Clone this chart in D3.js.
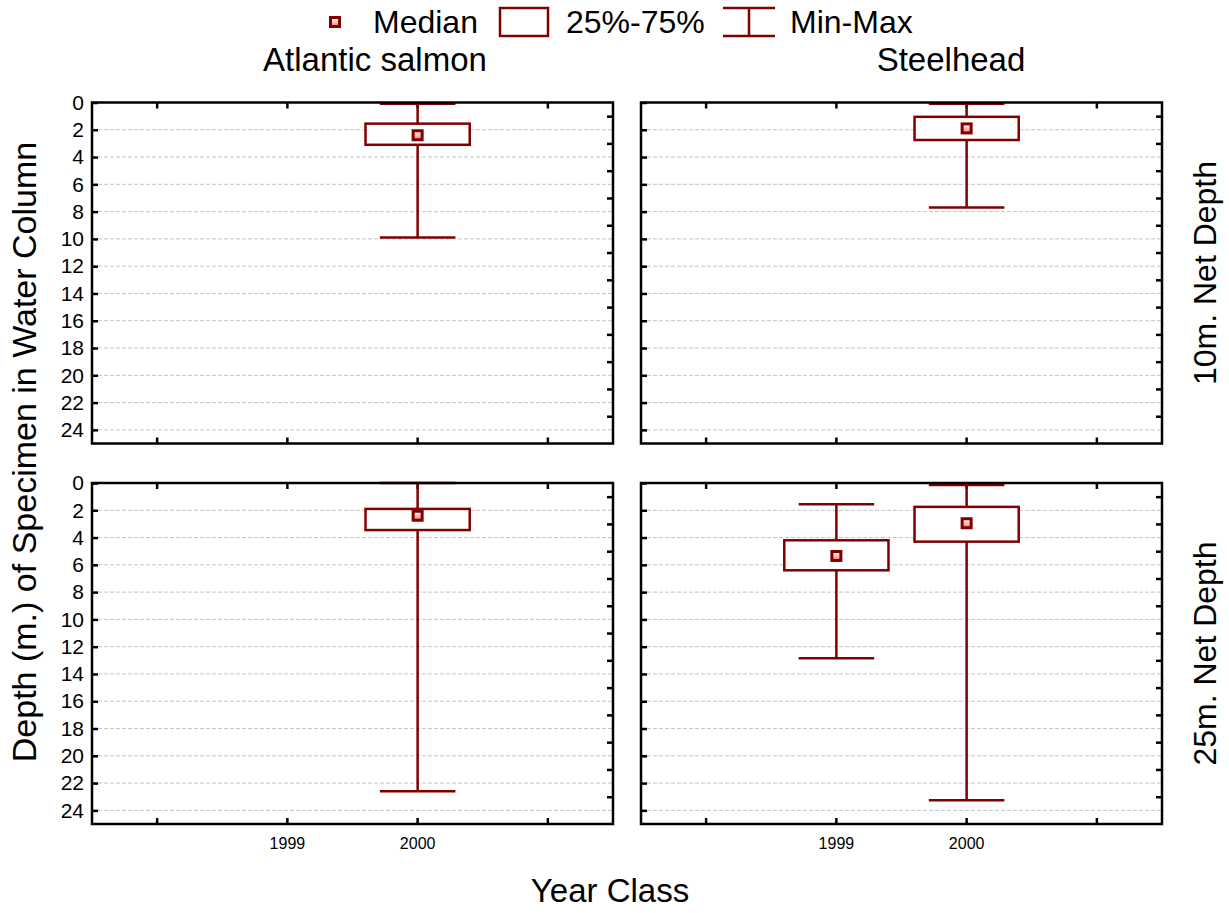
<!DOCTYPE html>
<html>
<head>
<meta charset="utf-8">
<script src="https://cdn.jsdelivr.net/npm/d3@7"></script>
<style>
  body { margin: 0; background: #fff; }
  text { font-family: "Liberation Sans", Arial, sans-serif; fill: #000; }
</style>
</head>
<body>
<script>
//categories for columns, rows and the x axis
var species = ["Atlantic salmon", "Steelhead"];
var nets = ["10m. Net Depth", "25m. Net Depth"];
var xCategories = ["1998", "1999", "2000", "2001"];
var xTickLabels = ["", "1999", "2000", ""];
var yTicks = [0, 2, 4, 6, 8, 10, 12, 14, 16, 18, 20, 22, 24];
var yOddTicks = [1, 3, 5, 7, 9, 11, 13, 15, 17, 19, 21, 23];

//box values, one entry per box
var boxSpecies = ["Atlantic salmon", "Steelhead", "Atlantic salmon", "Steelhead", "Steelhead"];
var boxNet     = ["10m. Net Depth", "10m. Net Depth", "25m. Net Depth", "25m. Net Depth", "25m. Net Depth"];
var boxYear    = ["2000", "2000", "2000", "1999", "2000"];
var boxMin     = [0.1, 0.1, 0.0, 1.55, 0.15];
var boxQ1      = [1.55, 1.05, 1.9, 4.2, 1.75];
var boxMedian  = [2.4, 1.9, 2.4, 5.35, 2.95];
var boxQ3      = [3.1, 2.75, 3.45, 6.4, 4.3];
var boxMax     = [9.9, 7.7, 22.6, 12.85, 23.25];

var dark = "#800000";

var svg = d3.select("body").append("svg")
  .attr("width", 1229)
  .attr("height", 913);

//gradient for the median marker centre
var grad = svg.append("defs").append("linearGradient")
  .attr("id", "medGrad").attr("x1", 0).attr("y1", 0).attr("x2", 0).attr("y2", 1);
grad.append("stop").attr("offset", "0%").attr("stop-color", "#fff0f0");
grad.append("stop").attr("offset", "100%").attr("stop-color", "#ff8c8c");

//panel placement
var colLeft = [92, 641];
var panelW = 521;
var rowTop = [102.5, 483];
var panelH = 341;

function drawMedian(g, cx, cy) {
  g.append("rect")
    .attr("x", cx - 6).attr("y", cy - 6)
    .attr("width", 12).attr("height", 12)
    .attr("fill", dark);
  g.append("rect")
    .attr("x", cx - 3).attr("y", cy - 3)
    .attr("width", 6).attr("height", 6)
    .attr("fill", "url(#medGrad)");
}

for (var r = 0; r < nets.length; r++) {
  for (var c = 0; c < species.length; c++) {
    var g = svg.append("g")
      .attr("transform", "translate(" + colLeft[c] + "," + rowTop[r] + ")");

    var x = d3.scaleBand().domain(xCategories).range([0, panelW]);
    var y = d3.scaleLinear().domain([0, 25]).range([0, panelH]);

    //dashed grid lines
    g.selectAll(".grid")
      .data(yTicks.slice(1))
      .enter().append("line")
      .attr("x1", 0).attr("x2", panelW)
      .attr("y1", function(d) { return y(d); })
      .attr("y2", function(d) { return y(d); })
      .attr("stroke", "#c4c4c4")
      .attr("stroke-width", 1)
      .attr("stroke-dasharray", "4,2");

    //left axis, labels only on the first column
    var leftAxis = d3.axisLeft(y).tickValues(yTicks)
      .tickSizeInner(-6).tickSizeOuter(0).tickPadding(8);
    if (c > 0) leftAxis.tickFormat("");
    g.append("g").attr("class", "axis").call(leftAxis)
      .attr("font-size", 21).attr("font-family", null);

    //right axis, small ticks between the grid lines
    g.append("g").attr("class", "axis")
      .attr("transform", "translate(" + panelW + ",0)")
      .call(d3.axisRight(y).tickValues(yOddTicks).tickSizeInner(-6).tickSizeOuter(0).tickFormat(""));

    //top and bottom ticks
    g.append("g").attr("class", "axis")
      .call(d3.axisTop(x).tickSizeInner(-6).tickSizeOuter(0).tickFormat(""));
    g.append("g").attr("class", "axis")
      .attr("transform", "translate(0," + panelH + ")")
      .call(d3.axisBottom(x).tickSizeInner(-6).tickSizeOuter(0).tickPadding(14)
        .tickFormat(function(d, i) { return r == nets.length - 1 ? xTickLabels[i] : ""; }))
      .attr("font-size", 16).attr("font-family", null);

    //boxes for this panel
    var bw = x.bandwidth() * 0.8;
    var cw = x.bandwidth() * 0.58;
    for (var i = 0; i < boxYear.length; i++) {
      if (boxSpecies[i] != species[c] || boxNet[i] != nets[r]) continue;
      var cx = x(boxYear[i]) + x.bandwidth() / 2;
      //whisker
      g.append("line")
        .attr("x1", cx).attr("x2", cx)
        .attr("y1", y(boxMin[i])).attr("y2", y(boxMax[i]))
        .attr("stroke", dark).attr("stroke-width", 2.5);
      g.append("line")
        .attr("x1", cx - cw / 2).attr("x2", cx + cw / 2)
        .attr("y1", y(boxMin[i])).attr("y2", y(boxMin[i]))
        .attr("stroke", dark).attr("stroke-width", 2.5);
      g.append("line")
        .attr("x1", cx - cw / 2).attr("x2", cx + cw / 2)
        .attr("y1", y(boxMax[i])).attr("y2", y(boxMax[i]))
        .attr("stroke", dark).attr("stroke-width", 2.5);
      //25%-75% box
      g.append("rect")
        .attr("x", cx - bw / 2).attr("y", y(boxQ1[i]))
        .attr("width", bw).attr("height", y(boxQ3[i]) - y(boxQ1[i]))
        .attr("fill", "#fff").attr("stroke", dark).attr("stroke-width", 2.5);
      drawMedian(g, cx, y(boxMedian[i]));
    }

    //panel frame
    g.append("rect")
      .attr("width", panelW).attr("height", panelH)
      .attr("fill", "none").attr("stroke", "#000").attr("stroke-width", 2.5);
  }
}

svg.selectAll(".axis path").remove();
svg.selectAll(".axis line").attr("stroke", "#000").attr("stroke-width", 2.5);

//column titles
var titleX = [375, 951];
species.forEach(function(s, i) {
  svg.append("text")
    .attr("x", titleX[i]).attr("y", 71)
    .attr("text-anchor", "middle").attr("font-size", 33)
    .text(s);
});

//row titles on the right
nets.forEach(function(n, i) {
  svg.append("text")
    .attr("transform", "translate(1216," + (rowTop[i] + panelH / 2) + ")rotate(-90)")
    .attr("text-anchor", "middle").attr("font-size", 32)
    .text(n);
});

//axis titles
svg.append("text")
  .attr("transform", "translate(36,452)rotate(-90)")
  .attr("text-anchor", "middle").attr("font-size", 34)
  .text("Depth (m.) of Specimen in Water Column");

svg.append("text")
  .attr("x", 610).attr("y", 902)
  .attr("text-anchor", "middle").attr("font-size", 33)
  .text("Year Class");

//legend
var legend = svg.append("g");
drawMedian(legend, 335, 22);
legend.append("text").attr("x", 373).attr("y", 33).attr("font-size", 32).text("Median");
legend.append("rect")
  .attr("x", 500).attr("y", 8).attr("width", 48).attr("height", 28)
  .attr("fill", "#fff").attr("stroke", dark).attr("stroke-width", 2.5);
legend.append("text").attr("x", 566).attr("y", 33).attr("font-size", 32).text("25%-75%");
legend.append("path")
  .attr("d", "M723,8H775M749,8V36M723,36H775")
  .attr("fill", "none").attr("stroke", dark).attr("stroke-width", 2.5);
legend.append("text").attr("x", 790).attr("y", 33).attr("font-size", 32).text("Min-Max");
</script>
</body>
</html>
